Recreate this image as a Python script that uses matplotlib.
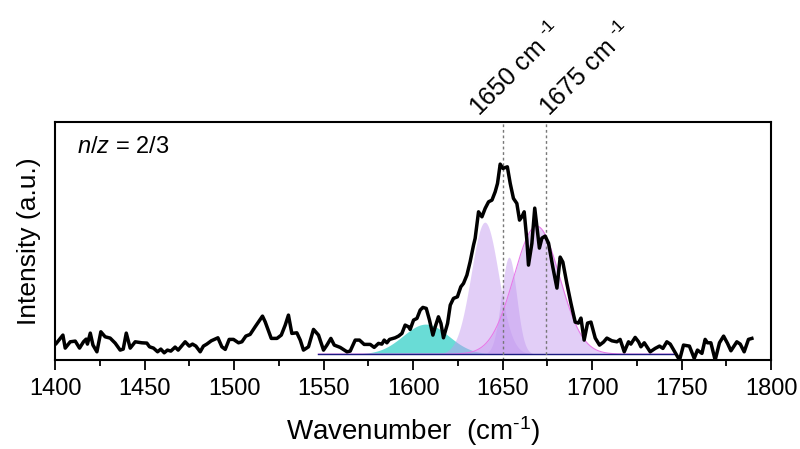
import numpy as np
import matplotlib
matplotlib.use("Agg")
from matplotlib import pyplot as plt

plt.rcParams['font.family'] = ['Liberation Sans', 'DejaVu Sans']
plt.rcParams['mathtext.fontset'] = 'custom'
plt.rcParams['mathtext.rm'] = 'Liberation Sans'
plt.rcParams['mathtext.it'] = 'Liberation Sans:italic'

# measured spectrum (wavenumber, intensity a.u.)
wavenumber = [1400.6, 1404.3, 1405.6, 1408.4, 1411.2, 1413.6, 1415.8, 1417.3, 1418.0, 1419.6,
              1421.1, 1423.3, 1425.5, 1427.9, 1430.7, 1433.5, 1436.3, 1438.0, 1439.7, 1441.9,
              1444.7, 1448.4, 1451.2, 1452.7, 1454.9, 1457.2, 1459.0, 1460.9, 1462.7, 1464.6,
              1467.0, 1468.7, 1472.6, 1474.9, 1476.7, 1478.6, 1481.0, 1482.8, 1484.7, 1487.2,
              1490.9, 1493.1, 1495.0, 1497.2, 1499.6, 1502.4, 1504.3, 1506.5, 1508.9, 1511.7,
              1515.8, 1517.3, 1520.7, 1523.9, 1526.3, 1528.5, 1530.3, 1532.2, 1535.0, 1536.9,
              1538.7, 1541.5, 1544.3, 1547.1, 1549.9, 1551.8, 1554.0, 1555.9, 1559.2, 1563.0,
              1564.8, 1567.6, 1570.0, 1572.6, 1576.0, 1578.2, 1580.6, 1582.5, 1583.8, 1585.3,
              1586.8, 1589.9, 1591.8, 1593.7, 1595.5, 1597.4, 1598.3, 1600.2, 1602.1, 1603.9,
              1605.4, 1607.3, 1609.1, 1611.0, 1612.3, 1614.1, 1615.5, 1616.9, 1619.2, 1620.7,
              1622.5, 1624.7, 1626.6, 1628.1, 1630.0, 1631.8, 1633.7, 1634.6, 1636.5, 1638.4,
              1640.2, 1642.1, 1644.0, 1645.8, 1647.1, 1648.6, 1650.1, 1652.6, 1654.2, 1656.0,
              1657.9, 1659.4, 1660.7, 1662.0, 1663.5, 1664.4, 1666.3, 1667.9, 1670.5, 1671.9,
              1673.7, 1675.6, 1678.0, 1680.3, 1682.1, 1683.6, 1685.8, 1688.1, 1690.5, 1692.3,
              1693.7, 1695.5, 1697.4, 1699.3, 1701.7, 1704.1, 1706.3, 1708.2, 1711.0, 1713.8,
              1715.6, 1717.9, 1720.3, 1721.6, 1724.0, 1725.9, 1727.2, 1729.1, 1732.4, 1735.2,
              1737.6, 1739.5, 1741.7, 1743.6, 1746.4, 1748.8, 1751.0, 1754.3, 1757.0, 1758.8,
              1761.3, 1763.1, 1764.4, 1766.3, 1768.7, 1771.1, 1773.4, 1775.6, 1777.5, 1780.8,
              1782.7, 1784.9, 1787.3, 1789.2]
intensity = [16.7, 25, 12, 18.3, 19, 12, 18.3, 21, 16, 27,
             15, 8.3, 28.3, 23.3, 22, 17, 10, 11, 27, 12,
             18.3, 17.3, 17, 13.3, 12, 8.3, 11, 7.3, 10, 9,
             13, 10, 18.3, 14, 16, 14, 8.3, 14, 16, 19.3,
             22.3, 13.3, 10.7, 20.7, 20.7, 17.3, 18.3, 24, 25.7, 33.3,
             44, 38.3, 21.7, 21.7, 25, 35, 45, 26.7, 27.3, 20,
             10, 13.3, 30.7, 25, 10, 15, 21.7, 15, 12.7, 8.3,
             9, 20, 20, 15.7, 15.7, 12.7, 16.7, 16, 20, 17.3,
             20.7, 22.3, 24, 26.7, 35, 33.3, 30.7, 40, 41.7, 50,
             52.7, 51.7, 40, 25, 33.3, 43.3, 36.7, 22.3, 36.7, 55,
             61.7, 63.3, 73.3, 76.7, 85, 98.3, 115, 121.7, 148.3, 143.3,
             151.7, 158.3, 160, 168.3, 176.7, 196, 191.7, 193.3, 176.7, 161.7,
             156.7, 140, 143.3, 148.3, 120, 95, 116.7, 152, 112, 122,
             124, 117, 93, 72, 103, 98, 77, 57, 38, 37,
             42, 20, 37, 38, 22, 15, 18, 22, 19.3, 18.3,
             20.7, 8.3, 18.3, 16, 22.7, 18.3, 13.3, 17.3, 8.3, 11.7,
             14, 11.7, 18.3, 16, 7.3, 0, 15, 14, 1.7, 10,
             6.7, 20.7, 17.3, 17.3, 0, 17.3, 24, 16.7, 9.3, 18.3,
             16, 8.3, 20.7, 21.7]

# fitted gaussian components
fit_range = (1547, 1747)
fit_baseline = 6
peak_centers = [1607, 1640, 1653.5, 1669]
peak_heights = [30, 132, 97, 128]
peak_fwhm = [30, 18, 10, 30]
peak_colors = ['#4fd6cf', '#c39af0', '#c39af0', '#c39af0']
peak_alpha = [0.85, 0.48, 0.48, 0.48]

marker_lines = [1650, 1674]
marker_labels = ['1650 cm $^{\\text{-1}}$', '1675 cm $^{\\text{-1}}$']
marker_label_x = [1637, 1676]

fig = plt.figure(figsize=(8, 4.49), dpi=100)
ax = fig.add_axes([0.069, 0.198, 0.895, 0.530])

xf = np.linspace(fit_range[0], fit_range[1], 500)
for c, h, w, col, a in zip(peak_centers, peak_heights, peak_fwhm, peak_colors, peak_alpha):
    s = w / 2.3548
    yf = fit_baseline + h * np.exp(-0.5 * ((xf - c) / s) ** 2)
    ax.fill_between(xf, fit_baseline, yf, color=col, alpha=a, lw=0)
# broad component has a thin magenta outline
s3 = peak_fwhm[3] / 2.3548
ax.plot(xf, fit_baseline + peak_heights[3] * np.exp(-0.5 * ((xf - peak_centers[3]) / s3) ** 2),
        color='#e67ae8', lw=0.8)
ax.plot(fit_range, [fit_baseline, fit_baseline], color='#1a1a80', lw=1)

for xv in marker_lines:
    ax.axvline(xv, color='#777777', lw=1, ls=(0, (2, 2)))

ax.plot(wavenumber, intensity, color='black', lw=2.5)

ax.set_xlim(1400, 1800)
ax.set_ylim(0, 238)
ax.set_yticks([])
ax.set_xticks(np.arange(1400, 1801, 50))
ax.set_xticks(np.arange(1425, 1800, 50), minor=True)
ax.tick_params(axis='x', which='major', direction='out', length=7, width=1.3, labelsize=17, pad=6)
ax.tick_params(axis='x', which='minor', direction='out', length=4, width=1.3)
for sp in ax.spines.values():
    sp.set_linewidth(1.5)

ax.set_xlabel('Wavenumber  (cm$^{\\text{-1}}$)', fontsize=20, labelpad=10)
ax.set_ylabel('Intensity (a.u.)', fontsize=19, labelpad=10)

ax.text(0.03, 0.87, '$\\it{n/z}$ = 2/3', transform=ax.transAxes, fontsize=17)

for xl, txt in zip(marker_label_x, marker_labels):
    ax.text(xl, 1.02, txt, transform=ax.get_xaxis_transform(), rotation=45,
            rotation_mode='anchor', ha='left', va='baseline', fontsize=18)

fig.savefig('out.png', dpi=100)
